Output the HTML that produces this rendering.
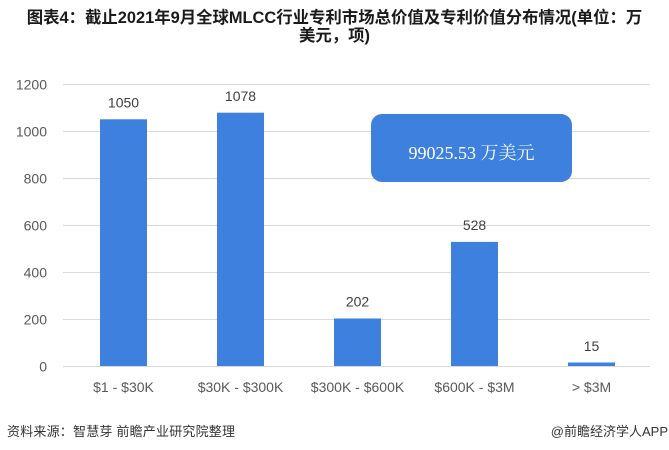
<!DOCTYPE html>
<html>
<head>
<meta charset="utf-8">
<style>
  html, body { margin:0; padding:0; background:#ffffff; }
  body { width:669px; height:450px; position:relative; overflow:hidden; }
  .title { position:absolute; left:0; top:9px; width:669px; text-align:center;
    font-family:"Liberation Sans","Noto Sans CJK SC",sans-serif; font-weight:bold;
    font-size:16.4px; line-height:18px; color:#1a1a1a; }
  .src { position:absolute; left:7px; top:421px; font-family:"Liberation Sans","Noto Sans CJK SC",sans-serif;
    font-size:13px; color:#333; letter-spacing:0.2px; white-space:nowrap; }
  .app { position:absolute; right:1px; top:421px; font-family:"Liberation Sans","Noto Sans CJK SC",sans-serif;
    font-size:13px; color:#333; white-space:nowrap; }
  svg { position:absolute; left:0; top:0; }
</style>
</head>
<body>
<div class="title">图表4：截止2021年9月全球MLCC行业专利市场总价值及专利价值分布情况(单位：万<br>美元，项)</div>

<svg width="669" height="450" viewBox="0 0 669 450">
  <g stroke="#d9d9d9" stroke-width="1">
    <line x1="63" y1="84.5" x2="650" y2="84.5"/>
    <line x1="63" y1="131.5" x2="650" y2="131.5"/>
    <line x1="63" y1="178.5" x2="650" y2="178.5"/>
    <line x1="63" y1="225.5" x2="650" y2="225.5"/>
    <line x1="63" y1="272.5" x2="650" y2="272.5"/>
    <line x1="63" y1="319.5" x2="650" y2="319.5"/>
    <line x1="63" y1="366.5" x2="650" y2="366.5"/>
  </g>
  <g font-family="Liberation Sans, sans-serif" font-size="14" fill="#595959" text-anchor="end">
    <text x="47" y="89.5">1200</text>
    <text x="47" y="136.5">1000</text>
    <text x="47" y="183.5">800</text>
    <text x="47" y="230.5">600</text>
    <text x="47" y="277.5">400</text>
    <text x="47" y="324.5">200</text>
    <text x="47" y="371.5">0</text>
  </g>
  <g fill="#3d80dd">
    <rect x="100" y="119.3" width="47" height="246.7"/>
    <rect x="217" y="112.7" width="47" height="253.3"/>
    <rect x="334" y="318.5" width="47" height="47.5"/>
    <rect x="451" y="241.9" width="47" height="124.1"/>
    <rect x="568" y="362.5" width="47" height="3.5"/>
  </g>
  <g font-family="Liberation Sans, sans-serif" font-size="14" fill="#404040" text-anchor="middle">
    <text x="123.5" y="107.5">1050</text>
    <text x="240.5" y="101">1078</text>
    <text x="357.5" y="306.5">202</text>
    <text x="474.5" y="230">528</text>
    <text x="591.5" y="351">15</text>
  </g>
  <g font-family="Liberation Sans, sans-serif" font-size="14" fill="#595959" text-anchor="middle">
    <text x="123.5" y="392">$1 - $30K</text>
    <text x="240.5" y="392">$30K - $300K</text>
    <text x="357.5" y="392">$300K - $600K</text>
    <text x="474.5" y="392">$600K - $3M</text>
    <text x="591.5" y="392">&gt; $3M</text>
  </g>
  <rect x="371" y="114" width="201" height="68" rx="11" ry="11" fill="#3d80dd"/>
  <text x="471.5" y="159" text-anchor="middle" font-family="Liberation Serif, Noto Serif CJK SC, serif" font-size="18" fill="#ffffff">99025.53 万美元</text>
</svg>

<div class="src">资料来源：智慧芽 前瞻产业研究院整理</div>
<div class="app">@前瞻经济学人APP</div>
</body>
</html>
